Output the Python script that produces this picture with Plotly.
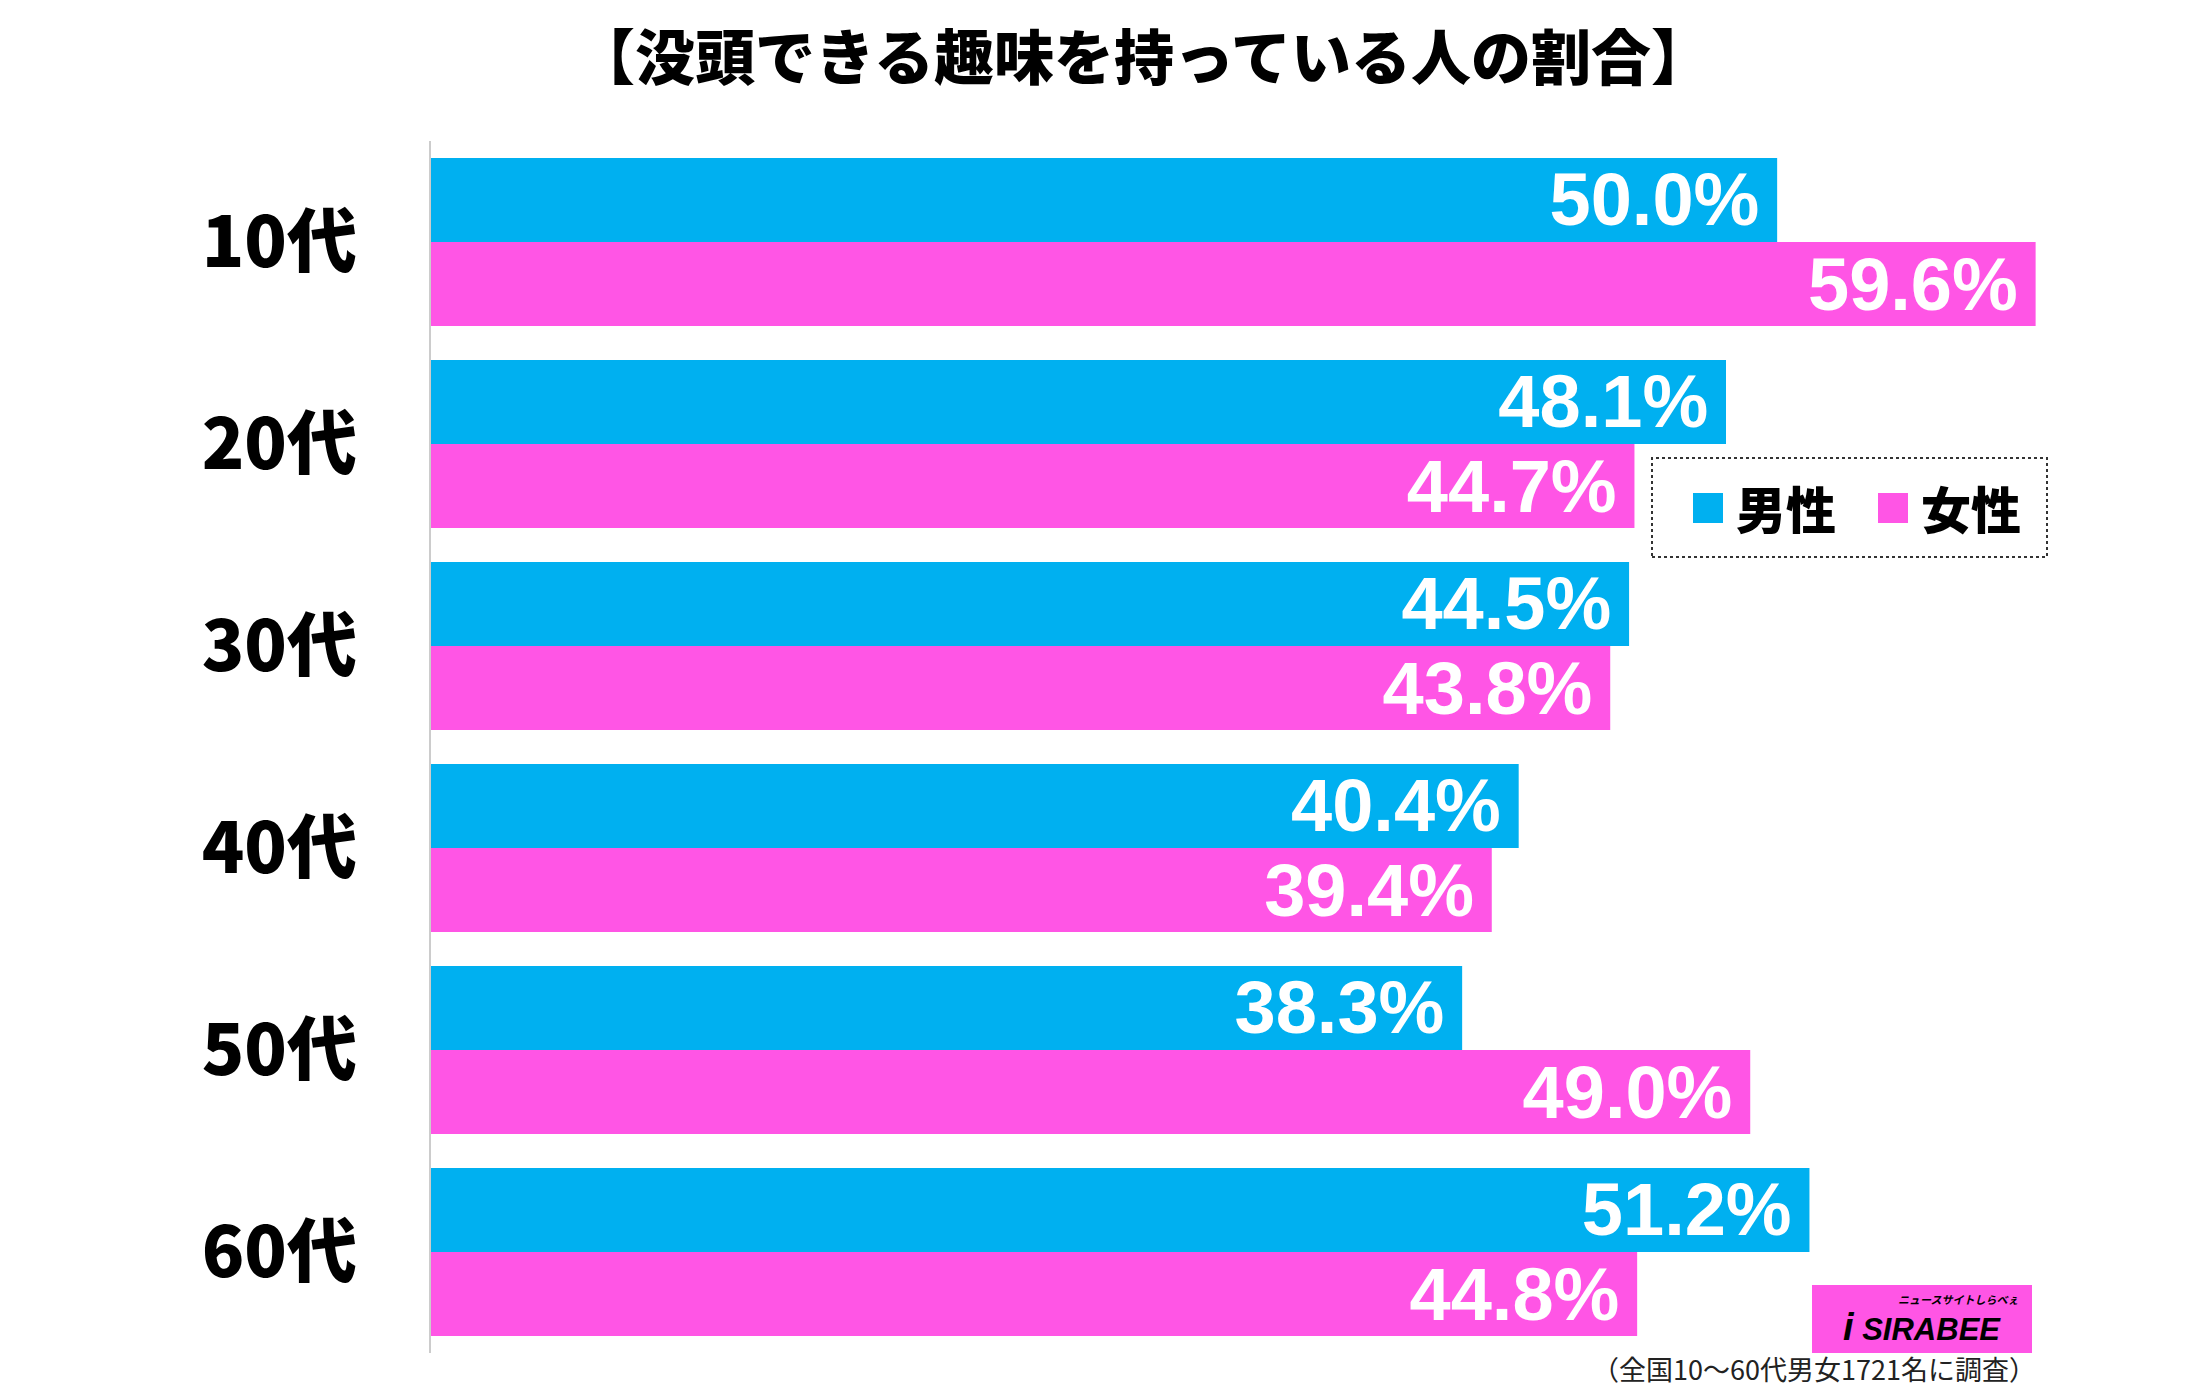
import plotly.graph_objects as go

# data
ages = ["10代", "20代", "30代", "40代", "50代", "60代"]
male = [50.0, 48.1, 44.5, 40.4, 38.3, 51.2]
female = [59.6, 44.7, 43.8, 39.4, 49.0, 44.8]
series_names = ["男性", "女性"]
colors = ["#00B0F0", "#FF55E5"]

# page body has an 8px margin, so the figure is laid out in screen pixels minus 8
OFF = 8
W, H = 2202 - 2 * OFF, 1396 - 2 * OFF
ML, MT = 431 - OFF, 141 - OFF
PW, PH = 1750, 1212
MR, MB = W - ML - PW, H - MT - PH


def px(x):
    return (x - OFF - ML) / PW


def py(y):
    return (MT + PH - (y - OFF)) / PH


fig = go.Figure()
for name, vals, col in zip(series_names, [male, female], colors):
    fig.add_trace(go.Bar(
        y=ages, x=vals, name=name, orientation="h",
        marker=dict(color=col, line=dict(width=0)),
        texttemplate="%{x:.1f}%\u2009", textposition="inside",
        insidetextanchor="end", constraintext="none",
        textfont=dict(family="Liberation Sans, Arial", size=74, color="white", weight="bold"),
        hoverinfo="skip", showlegend=False,
    ))

# legend box (dotted) with hand-drawn items
fig.add_shape(type="rect", xref="paper", yref="paper",
              x0=px(1652), x1=px(2047), y0=py(557), y1=py(458),
              line=dict(color="#333333", width=2, dash="dot"), fillcolor="white", layer="above")
for name, col, sx, tx in zip(series_names, colors, [1693, 1878], [1738, 1923]):
    fig.add_shape(type="rect", xref="paper", yref="paper",
                  x0=px(sx), x1=px(sx + 30), y0=py(523), y1=py(493),
                  line=dict(width=0), fillcolor=col, layer="above")
    fig.add_annotation(xref="paper", yref="paper", x=px(tx - 4), y=py(507),
                       xanchor="left", yanchor="middle", text=name, showarrow=False,
                       font=dict(family="Noto Sans CJK JP", size=50, color="black", weight=900))

# logo
fig.add_shape(type="rect", xref="paper", yref="paper",
              x0=px(1812), x1=px(2032), y0=py(1353), y1=py(1285),
              line=dict(width=0), fillcolor="#FF55E5", layer="above")
fig.add_annotation(xref="paper", yref="paper", x=px(1922), y=py(1327), xanchor="center", yanchor="middle",
                   text="<b><i><span style='font-size:38px'>i</span> SIRABEE</i></b>", showarrow=False,
                   font=dict(family="Liberation Sans", size=31, color="black"))
fig.add_annotation(xref="paper", yref="paper", x=px(1958), y=py(1299), xanchor="center", yanchor="middle",
                   text="<i>ニュースサイトしらべぇ</i>", showarrow=False,
                   font=dict(family="Noto Sans CJK JP", size=11, color="black", weight="bold"))

# footnote
fig.add_annotation(xref="paper", yref="paper", x=px(2038), y=py(1368), xanchor="right", yanchor="middle",
                   text="（全国10〜60代男女1721名に調査）", showarrow=False,
                   font=dict(family="Noto Sans CJK JP", size=27, color="#222222"))

fig.update_layout(
    width=W, height=H,
    margin=dict(l=ML, r=MR, t=MT, b=MB),
    paper_bgcolor="white", plot_bgcolor="white",
    barmode="group", bargap=0.168, bargroupgap=0,
    title=dict(text="【没頭できる趣味を持っている人の割合】", x=(1143 - OFF) / W, xanchor="center",
               y=1 - (59 - OFF) / H, yanchor="middle",
               font=dict(family="Noto Sans CJK JP", size=60, color="black", weight=900)),
    xaxis=dict(range=[0, 65], visible=False, fixedrange=True),
    yaxis=dict(autorange="reversed", showgrid=False, showline=True, linecolor="#cccccc", linewidth=2,
               ticks="", ticklabelstandoff=58,
               tickfont=dict(family="Noto Sans CJK JP", size=70, color="black", weight=900)),
    showlegend=False,
)

fig.write_html("out.html")
